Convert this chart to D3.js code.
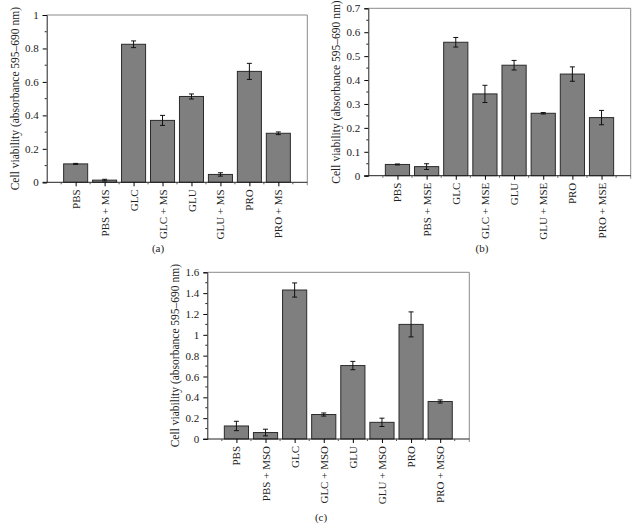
<!DOCTYPE html>
<meta charset="utf-8">
<style>
body { margin: 0; background: #fff; }
svg { font-family: "Liberation Serif", "DejaVu Serif", serif; }
.bar { fill: #7f7f7f; stroke: #2b2b2b; stroke-width: 1; }
.err { stroke: #111; stroke-width: 1; }
.frame { fill: none; stroke: #8a8a8a; stroke-width: 1; }
</style>
<body>
<script src="https://cdn.jsdelivr.net/npm/d3@7"></script>
<script>
// panel data
var catsA = ["PBS", "PBS + MS", "GLC", "GLC + MS", "GLU", "GLU + MS", "PRO", "PRO + MS"];
var valsA = [0.110, 0.013, 0.825, 0.370, 0.513, 0.047, 0.663, 0.293];
var errsA = [0.003, 0.005, 0.020, 0.030, 0.015, 0.010, 0.048, 0.008];

var catsB = ["PBS", "PBS + MSE", "GLC", "GLC + MSE", "GLU", "GLU + MSE", "PRO", "PRO + MSE"];
var valsB = [0.047, 0.038, 0.558, 0.342, 0.462, 0.261, 0.425, 0.243];
var errsB = [0.002, 0.012, 0.020, 0.036, 0.020, 0.003, 0.030, 0.030];

var catsC = ["PBS", "PBS + MSO", "GLC", "GLC + MSO", "GLU", "GLU + MSO", "PRO", "PRO + MSO"];
var valsC = [0.125, 0.062, 1.430, 0.235, 0.705, 0.160, 1.100, 0.360];
var errsC = [0.045, 0.032, 0.068, 0.015, 0.040, 0.040, 0.120, 0.015];

var ticksA = [0, 0.2, 0.4, 0.6, 0.8, 1];
var ticksB = [0, 0.1, 0.2, 0.3, 0.4, 0.5, 0.6, 0.7];
var ticksC = [0, 0.2, 0.4, 0.6, 0.8, 1, 1.2, 1.4, 1.6];

var yTitle = "Cell viability (absorbance 595\u2013690 nm)";

var svg = d3.select("body").append("svg")
    .attr("width", 641)
    .attr("height", 529);

function panel(o) {
  var x = d3.scalePoint().domain(o.cats).range([o.left, o.right]).padding(1);
  var step = x.step();
  var bw = step * 0.83;
  var y = d3.scaleLinear().domain([0, o.max]).range([o.bottom, o.top]);
  var g = svg.append("g");

  // frame (top and right)
  g.append("path").attr("class", "frame")
    .attr("d", "M" + o.left + "," + o.top + "H" + o.right + "V" + (o.bottom + 3));

  // bars
  var data = o.cats.map(function(c, i) { return {c: c, v: o.vals[i], e: o.errs[i]}; });
  g.selectAll(".bar").data(data).enter().append("rect")
    .attr("class", "bar")
    .attr("x", function(d) { return x(d.c) - bw / 2; })
    .attr("width", bw)
    .attr("y", function(d) { return y(d.v); })
    .attr("height", function(d) { return o.bottom - y(d.v); });

  // error bars
  var eb = g.selectAll(".eb").data(data).enter().append("g").attr("class", "eb");
  eb.append("line").attr("class", "err")
    .attr("x1", function(d) { return x(d.c); }).attr("x2", function(d) { return x(d.c); })
    .attr("y1", function(d) { return y(d.v - d.e); }).attr("y2", function(d) { return y(d.v + d.e); });
  [-1, 1].forEach(function(s) {
    eb.append("line").attr("class", "err")
      .attr("x1", function(d) { return x(d.c) - 2.5; }).attr("x2", function(d) { return x(d.c) + 2.5; })
      .attr("y1", function(d) { return y(d.v + s * d.e); }).attr("y2", function(d) { return y(d.v + s * d.e); });
  });

  // y axis
  var ya = g.append("g").attr("transform", "translate(" + o.left + ",0)")
    .call(d3.axisLeft(y).tickValues(o.ticks).tickSize(4).tickPadding(4)
      .tickFormat(function(d) { return String(+d.toFixed(2)); }));
  ya.select(".domain").attr("stroke", "#222");
  ya.selectAll("text").attr("font-size", 11).attr("font-family", "Liberation Serif").attr("fill", "#222");
  // minor ticks
  var minor = [];
  for (var i = 0; i < o.ticks.length - 1; i++) minor.push((o.ticks[i] + o.ticks[i + 1]) / 2);
  g.selectAll(".mt").data(minor).enter().append("line")
    .attr("x1", o.left - 2).attr("x2", o.left)
    .attr("y1", function(d) { return y(d); }).attr("y2", function(d) { return y(d); })
    .attr("stroke", "#222");

  // x axis
  var xa = g.append("g").attr("transform", "translate(0," + o.bottom + ")")
    .call(d3.axisBottom(x).tickSize(4).tickPadding(6));
  xa.select(".domain").attr("d", "M" + (o.left - 4) + ",0H" + o.right).attr("stroke", "#222");
  xa.selectAll("text")
    .attr("font-size", 11).attr("font-family", "Liberation Serif").attr("fill", "#222")
    .attr("transform", "rotate(-90)")
    .attr("x", -7).attr("y", 0).attr("dy", "0.32em")
    .style("text-anchor", "end");
  // boundary ticks
  g.selectAll(".bt").data(o.cats).enter().append("line")
    .attr("x1", function(d) { return x(d) - step / 2; }).attr("x2", function(d) { return x(d) - step / 2; })
    .attr("y1", o.bottom).attr("y2", o.bottom + 2)
    .attr("stroke", "#555");
  g.append("line")
    .attr("x1", x(o.cats[7]) + step / 2).attr("x2", x(o.cats[7]) + step / 2)
    .attr("y1", o.bottom).attr("y2", o.bottom + 2).attr("stroke", "#555");

  // y title
  g.append("text")
    .attr("transform", "translate(" + o.titleX + "," + ((o.top + o.bottom) / 2) + ") rotate(-90)")
    .attr("text-anchor", "middle")
    .attr("dy", "0.35em")
    .attr("font-size", 11.5)
    .attr("fill", "#222")
    .text(yTitle);

  // caption
  g.append("text")
    .attr("x", o.capX).attr("y", o.capY)
    .attr("text-anchor", "middle")
    .attr("dy", "0.35em")
    .attr("font-size", 11)
    .attr("fill", "#222")
    .text(o.cap);
}

panel({cats: catsA, vals: valsA, errs: errsA, ticks: ticksA, max: 1,
  left: 46.7, right: 307.3, top: 15, bottom: 182.3, titleX: 15, capX: 158, capY: 248, cap: "(a)"});
panel({cats: catsB, vals: valsB, errs: errsB, ticks: ticksB, max: 0.7,
  left: 368.3, right: 630.7, top: 8.3, bottom: 175.7, titleX: 336, capX: 482, capY: 248, cap: "(b)"});
panel({cats: catsC, vals: valsC, errs: errsC, ticks: ticksC, max: 1.6,
  left: 207.3, right: 469.3, top: 272.3, bottom: 439, titleX: 175, capX: 321, capY: 517.5, cap: "(c)"});
</script>
</body>
